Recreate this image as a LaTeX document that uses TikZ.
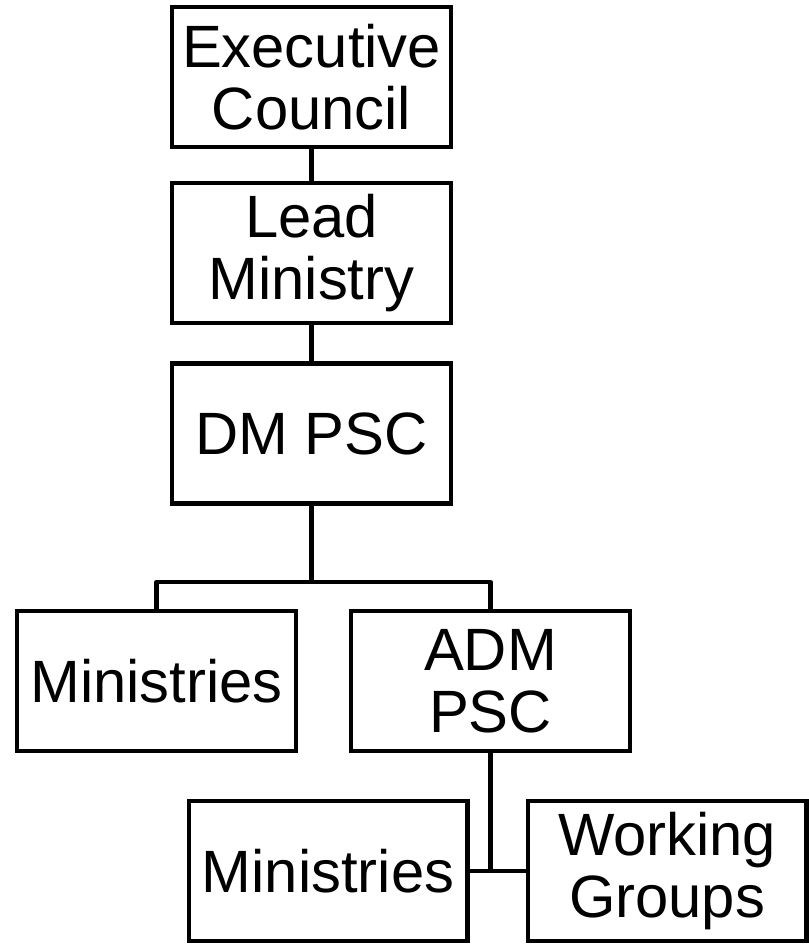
\documentclass[tikz,border=0pt]{standalone}
\usepackage{fontspec}
\setmainfont{Liberation Sans}
\usetikzlibrary{calc}

\tikzset{
    unit/.style={draw, rectangle, line width=2.3pt, minimum width=5.58cm,
        minimum height=2.8cm, inner sep=0pt, align=center,
        font=\fontsize{34}{35.3}\selectfont},
    link/.style={line width=2.3pt, line join=round}
}

\begin{document}
\begin{tikzpicture}[x=0.02cm, y=-0.02cm]
        \useasboundingbox (0,0) rectangle (808,952);
        % boxes
        \node[unit] (exec) at (311.5,77) {Executive\\Council};
        \node[unit] (lead) at (311.5,253) {Lead\\Ministry};
        \node[unit] (dmpsc) at (311.5,433.5) {DM PSC};
        \node[unit] (minA) at (156.5,681) {Ministries};
        \node[unit] (admpsc) at (490.5,681) {ADM\\PSC};
        \node[unit] (minB) at (328,871) {Ministries};
        \node[unit] (groups) at (667,871) {Working\\Groups};
        % ~~~~~~~~~~~~~~~~~
        \coordinate (fork) at (311.5,582);
        \draw[link] (exec.south) -- (lead.north);
        \draw[link] (lead.south) -- (dmpsc.north);
        \draw[link] (dmpsc.south) -- (fork);
        \draw[link] (minA.north) |- (fork) -| (admpsc.north);
        \draw[link] (admpsc.south) |- (minB.east);
        \draw[link] (minB.east) -- (groups.west);
    \end{tikzpicture}
\end{document}
